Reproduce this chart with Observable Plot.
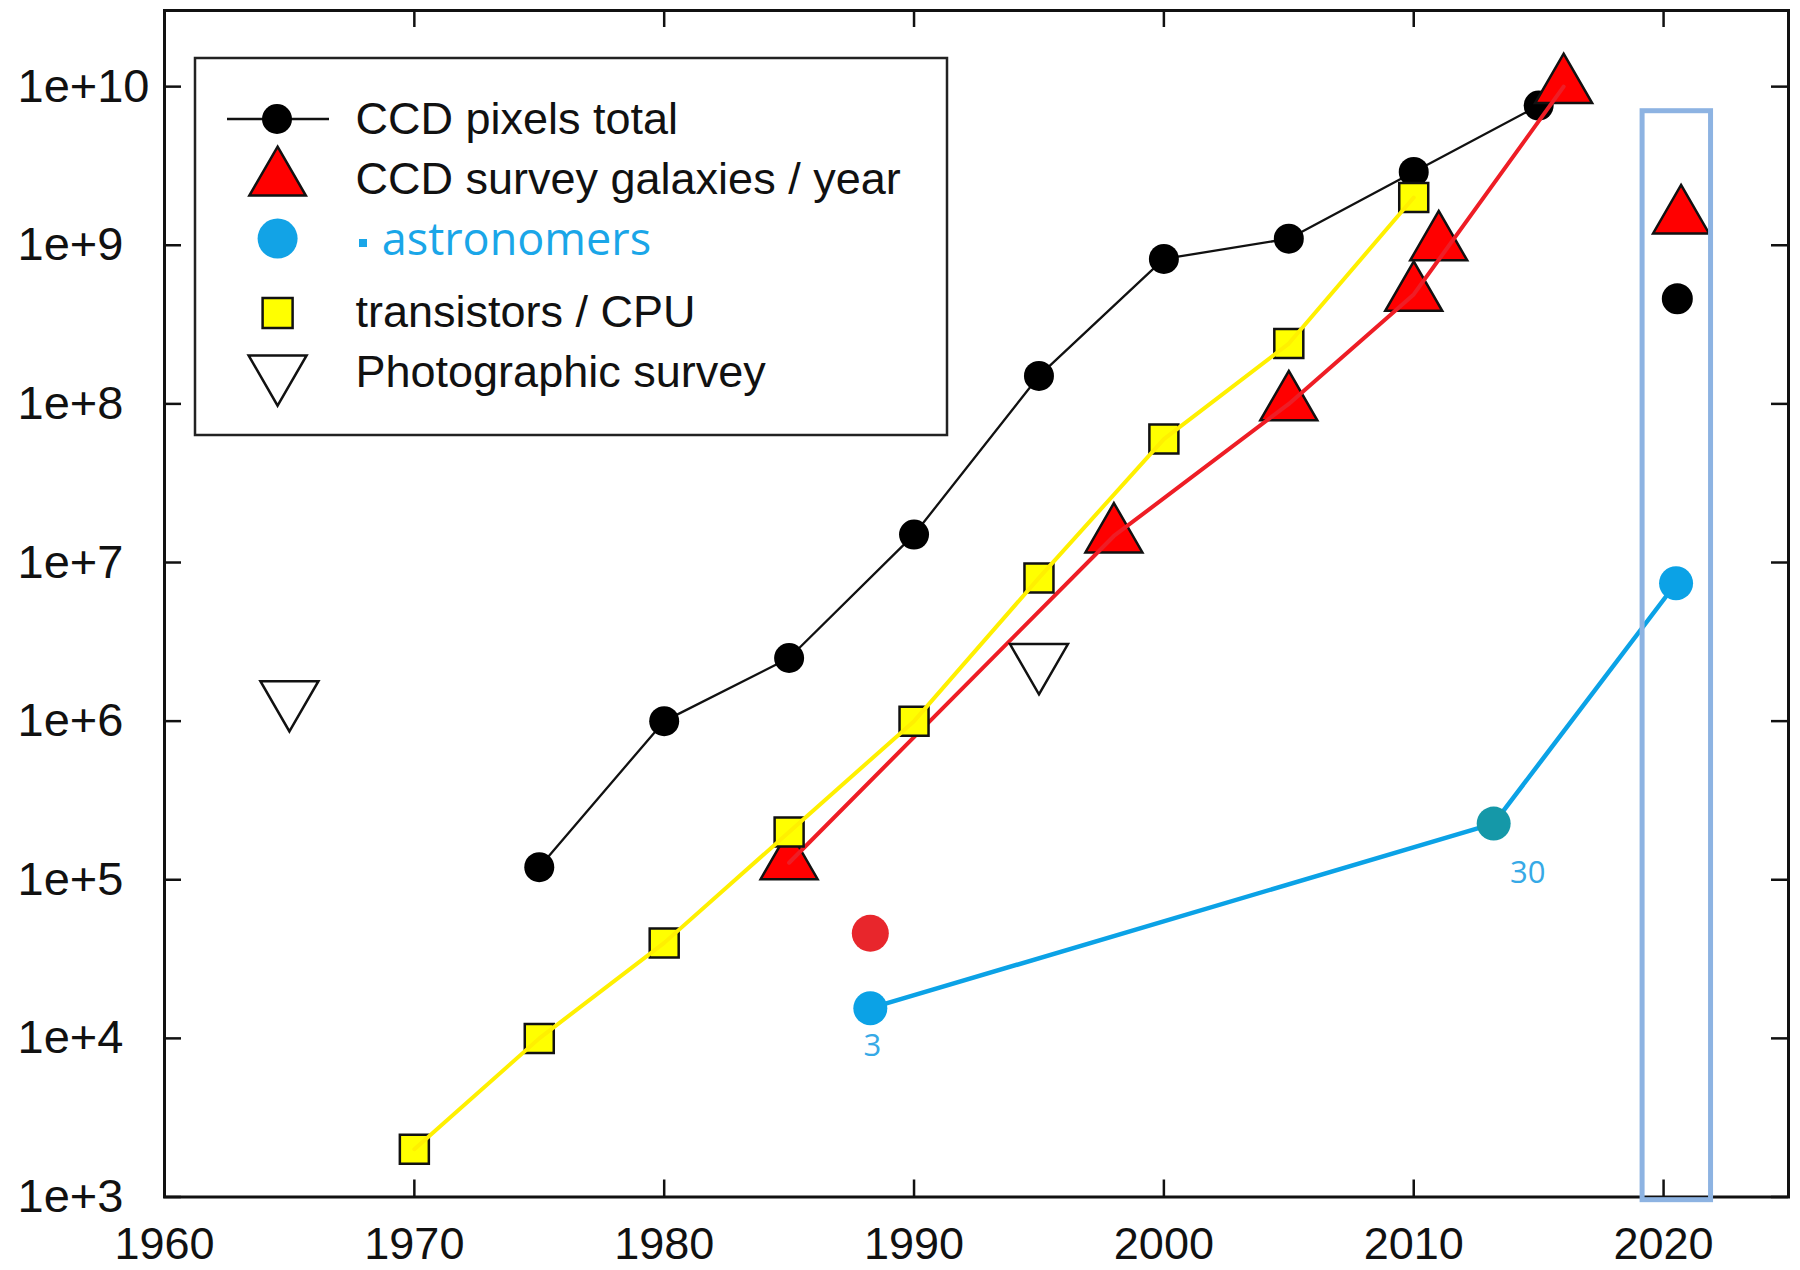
<!DOCTYPE html>
<html>
<head>
<meta charset="utf-8">
<script src="https://cdn.jsdelivr.net/npm/d3@7"></script>
<script src="https://cdn.jsdelivr.net/npm/@observablehq/plot@0.6"></script>
<style>
html, body { margin: 0; padding: 0; background: #fff; }
#wrap { position: relative; width: 1800px; height: 1270px; overflow: hidden; }
#wrap svg { position: absolute; left: 0; top: 0; }
</style>
</head>
<body>
<div id="wrap"></div>
<script>
// ---------- tick values / labels ----------
const xTickValues = [1960, 1970, 1980, 1990, 2000, 2010, 2020];
const xTickLabels = ["1960", "1970", "1980", "1990", "2000", "2010", "2020"];
const yTickValues = [1e3, 1e4, 1e5, 1e6, 1e7, 1e8, 1e9, 1e10];
const yTickLabels = ["1e+3", "1e+4", "1e+5", "1e+6", "1e+7", "1e+8", "1e+9", "1e+10"];

// ---------- series ----------
// CCD pixels total
const ccdYears  = [1975, 1980, 1985, 1990, 1995, 2000, 2005, 2010, 2015];
const ccdPixels = [1.2e5, 1e6, 2.5e6, 1.5e7, 1.5e8, 8.2e8, 1.1e9, 2.9e9, 7.6e9];
const ccdExtraYears  = [2020.55];
const ccdExtraPixels = [4.6e8];

// CCD survey galaxies / year
const galaxyYears  = [1985, 1998, 2005, 2010, 2011, 2016];
const galaxyValues = [1.28e5, 1.47e7, 1.0e8, 4.9e8, 1.02e9, 1.0e10];
const galaxyLineYears = [1985, 1998, 2005, 2010, 2016];
const galaxyExtraYears  = [2020.7];
const galaxyExtraValues = [1.5e9];

// transistors / CPU
const transistorYears  = [1970, 1975, 1980, 1985, 1990, 1995, 2000, 2005, 2010];
const transistorValues = [2.0e3, 1.0e4, 4.0e4, 2.0e5, 1.0e6, 8.0e6, 6.0e7, 2.4e8, 2.0e9];

// Photographic survey
const photoYears  = [1965, 1995];
const photoValues = [1.4e6, 2.4e6];

// astronomers
const astroYears  = [1988.25, 2013.2, 2020.5];
const astroValues = [1.55e4, 2.26e5, 7.4e6];
const astroLabels = ["3", "30", ""];

// lone red point
const redDotYears  = [1988.25];
const redDotValues = [4.6e4];

// highlight box (data coordinates)
const boxYears  = [2019.16, 2021.9];
const boxValues = [955, 7.0e9];

// ---------- build tables ----------
const zip = (xs, ys) => xs.map((x, i) => ({x, y: ys[i], i}));
const ccd = zip(ccdYears, ccdPixels);
const ccdExtra = zip(ccdExtraYears, ccdExtraPixels);
const galaxies = zip(galaxyYears, galaxyValues);
const galaxyLine = galaxies.filter(d => galaxyLineYears.includes(d.x));
const galaxyExtra = zip(galaxyExtraYears, galaxyExtraValues);
const transistors = zip(transistorYears, transistorValues);
const photo = zip(photoYears, photoValues);
const astro = astroYears.map((x, i) => ({x, y: astroValues[i], label: astroLabels[i], i}));
const redDot = zip(redDotYears, redDotValues);
const box = [{x1: boxYears[0], x2: boxYears[1], y1: boxValues[0], y2: boxValues[1]}];

// ---------- layout ----------
const W = 1800, H = 1270;
const mL = 164, mR = 12, mT = 10, mB = 73.5;
const pw = W - mL - mR, ph = H - mT - mB;
const tickLen = 17;

const S3 = Math.sqrt(3);
const triangleDown = {
  draw(context, size) {
    const y = -Math.sqrt(size / (S3 * 3));
    context.moveTo(0, -y * 2);
    context.lineTo(-S3 * y, y);
    context.lineTo(S3 * y, y);
    context.closePath();
  }
};
const rFromTriSide = s => Math.sqrt((S3 / 4) * s * s / Math.PI);
const rFromSquareSide = s => Math.sqrt(s * s / Math.PI);

const BLUE = "#0ba2e6";
const TEAL = "#1598a8";

const chart = Plot.plot({
  width: W, height: H,
  marginLeft: mL, marginRight: mR, marginTop: mT, marginBottom: mB,
  style: {fontFamily: "'Liberation Sans', Arial, sans-serif", background: "transparent", overflow: "visible"},
  x: {domain: [1960, 2025], axis: null},
  y: {type: "log", domain: [1e3, Math.pow(10, 10.48)], axis: null},
  marks: [
    // inward ticks on all four sides
    Plot.tickY(yTickValues, {y: d => d, stroke: "#111", strokeWidth: 2.5, insetRight: pw - tickLen}),
    Plot.tickY(yTickValues, {y: d => d, stroke: "#111", strokeWidth: 2.5, insetLeft: pw - tickLen}),
    Plot.tickX(xTickValues, {x: d => d, stroke: "#111", strokeWidth: 2.5, insetBottom: ph - tickLen}),
    Plot.tickX(xTickValues, {x: d => d, stroke: "#111", strokeWidth: 2.5, insetTop: ph - tickLen}),
    Plot.frame({stroke: "#111", strokeWidth: 3}),
    // tick labels
    Plot.text(yTickValues, {y: d => d, text: (d, i) => yTickLabels[i], frameAnchor: "left", textAnchor: "start",
      lineAnchor: "middle", dx: 17 - mL, fontSize: 47, fill: "#111"}),
    Plot.text(xTickValues, {x: d => d, text: (d, i) => xTickLabels[i], frameAnchor: "bottom",
      lineAnchor: "middle", dy: 47.5, fontSize: 45, fill: "#111"}),

    // CCD pixels total
    Plot.line(ccd, {x: "x", y: "y", stroke: "#111", strokeWidth: 2.3}),
    Plot.dot(ccd, {x: "x", y: "y", r: 15, fill: "#000"}),
    Plot.dot(ccdExtra, {x: "x", y: "y", r: 15.5, fill: "#000"}),

    // CCD survey galaxies / year
    Plot.dot(galaxies, {x: "x", y: "y", symbol: "triangle", r: rFromTriSide(57), fill: "#ff0000", stroke: "#111", strokeWidth: 2.5}),
    Plot.dot(galaxyExtra, {x: "x", y: "y", symbol: "triangle", r: rFromTriSide(56), fill: "#ff0000", stroke: "#111", strokeWidth: 2.5}),
    Plot.line(galaxyLine, {x: "x", y: "y", stroke: "#ee1d25", strokeWidth: 4}),

    // transistors / CPU
    Plot.dot(transistors, {x: "x", y: "y", symbol: "square", r: rFromSquareSide(29), fill: "#ffff00", stroke: "#111", strokeWidth: 2.5}),
    Plot.line(transistors, {x: "x", y: "y", stroke: "#fff000", strokeWidth: 4}),

    // Photographic survey
    Plot.dot(photo, {x: "x", y: "y", symbol: triangleDown, r: rFromTriSide(58), fill: "#fff", stroke: "#111", strokeWidth: 2.5}),

    // astronomers
    Plot.line(astro, {x: "x", y: "y", stroke: BLUE, strokeWidth: 4.5}),
    Plot.dot(astro, {x: "x", y: "y", r: 17, fill: d => d.i === 1 ? TEAL : BLUE}),
    Plot.text(astro.filter(d => d.i === 0), {x: "x", y: "y", text: "label", dx: 2, dy: 38,
      fontSize: 31, fill: "#36a9e6", fontFamily: "'Open Sans', sans-serif"}),
    Plot.text(astro.filter(d => d.i === 1), {x: "x", y: "y", text: "label", dx: 34, dy: 49,
      fontSize: 31, fill: "#36a9e6", fontFamily: "'Open Sans', sans-serif"}),

    // lone red point
    Plot.dot(redDot, {x: "x", y: "y", r: 18.5, fill: "#e8262c"}),

    // highlight box
    Plot.rect(box, {x1: "x1", x2: "x2", y1: "y1", y2: "y2", fill: "none", stroke: "#8db3e2", strokeWidth: 5})
  ]
});
document.getElementById("wrap").appendChild(chart);

// ---------- legend (overlay) ----------
const leg = d3.select("#wrap").append("svg")
  .attr("width", W).attr("height", H)
  .style("pointer-events", "none");

leg.append("rect").attr("x", 195).attr("y", 58).attr("width", 752).attr("height", 377)
  .attr("fill", "#fff").attr("stroke", "#222").attr("stroke-width", 2.5);

const lx = 277.6;
const textX = 355.5;
const legendFont = "'Liberation Sans', Arial, sans-serif";

// row 1: CCD pixels total
leg.append("line").attr("x1", 227).attr("x2", 329).attr("y1", 119).attr("y2", 119)
  .attr("stroke", "#111").attr("stroke-width", 2.5);
leg.append("circle").attr("cx", lx - 0.6).attr("cy", 119).attr("r", 15).attr("fill", "#000");

// row 2: triangle
const triSize = s => (S3 / 4) * s * s;
leg.append("path").attr("d", d3.symbol(d3.symbolTriangle, triSize(56.5))())
  .attr("transform", `translate(${lx},179.3)`)
  .attr("fill", "#ff0000").attr("stroke", "#111").attr("stroke-width", 2.5);

// row 3: blue circle
leg.append("circle").attr("cx", lx).attr("cy", 238.6).attr("r", 20).attr("fill", "#12a3e6");

// row 4: yellow square
leg.append("rect").attr("x", lx - 15).attr("y", 298).attr("width", 30).attr("height", 30)
  .attr("fill", "#ffff00").attr("stroke", "#111").attr("stroke-width", 2.5);

// row 5: down triangle
leg.append("path").attr("d", d3.symbol(triangleDown, triSize(58))())
  .attr("transform", `translate(${lx},372.2)`)
  .attr("fill", "#fff").attr("stroke", "#111").attr("stroke-width", 2.5);

const legendRows = [
  {text: "CCD pixels total", y: 133.5},
  {text: "CCD survey galaxies / year", y: 193.5},
  {text: "transistors / CPU", y: 327},
  {text: "Photographic survey", y: 386.7}
];
leg.selectAll("text.lg").data(legendRows).join("text")
  .attr("class", "lg")
  .attr("x", textX).attr("y", d => d.y)
  .attr("font-family", legendFont).attr("font-size", 45).attr("fill", "#111")
  .text(d => d.text);

leg.append("rect").attr("x", 359).attr("y", 239).attr("width", 8).attr("height", 8).attr("fill", "#1aa6e8");
leg.append("text").attr("x", 381.7).attr("y", 255)
  .attr("font-family", "'Open Sans', sans-serif").attr("font-size", 45).attr("fill", "#1aa6e8")
  .text("astronomers");
</script>
</body>
</html>
